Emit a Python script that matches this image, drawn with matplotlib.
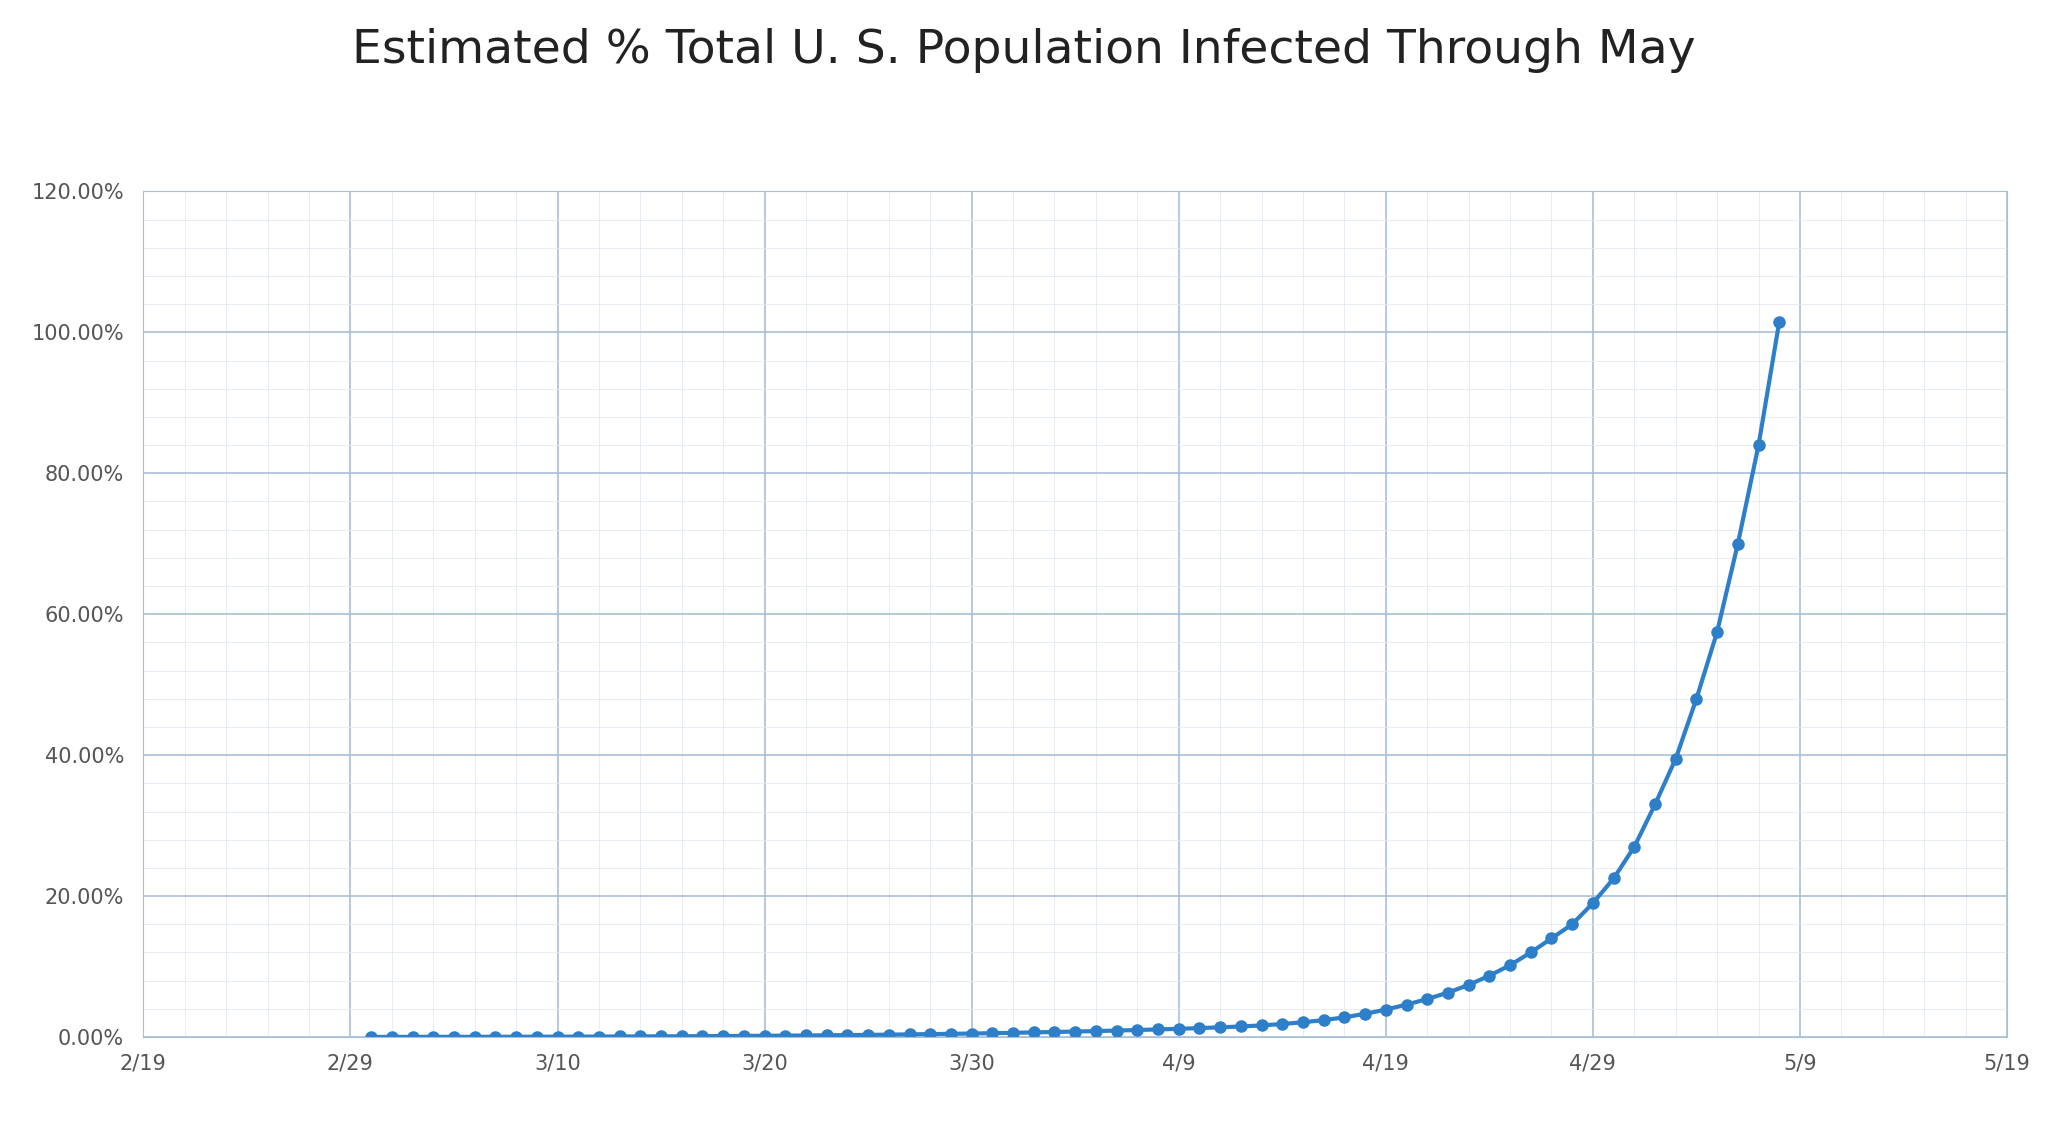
import pandas as pd
import matplotlib.pyplot as plt
import matplotlib.dates as mdates
from matplotlib.ticker import FuncFormatter

dates = pd.date_range("2020-03-01", "2020-05-08", freq="D")
# estimated % of population infected
values = [0.01, 0.02, 0.02, 0.03, 0.03, 0.03, 0.04, 0.04, 0.05, 0.05, 0.06,
          0.07, 0.08, 0.09, 0.10, 0.11, 0.13, 0.14, 0.16, 0.18, 0.20,
          0.22, 0.25, 0.28, 0.31, 0.34, 0.38, 0.42, 0.46, 0.50, 0.55,
          0.60, 0.66, 0.72, 0.78, 0.85, 0.92, 1.00, 1.08, 1.17, 1.27,
          1.38, 1.50, 1.65, 1.85, 2.1, 2.4, 2.8, 3.3, 3.9, 4.6,
          5.4, 6.3, 7.4, 8.7, 10.2, 12.0, 14.0, 16.0, 19.0, 22.5,
          27.0, 33.0, 39.5, 48.0, 57.5, 70.0, 84.0, 101.5]

fig, ax = plt.subplots(figsize=(20.48, 11.26), dpi=100)
fig.subplots_adjust(left=0.07, right=0.98, top=0.83, bottom=0.079)
ax.plot(dates, values, color="#2e7fc9", lw=3, marker="o", ms=8)
ax.set_xlim(pd.Timestamp("2020-02-19"), pd.Timestamp("2020-05-19"))
ax.set_ylim(0, 120)
ax.set_yticks(range(0, 121, 20))
ax.yaxis.set_major_formatter(FuncFormatter(lambda v, p: f"{v:.2f}%"))
ticks = pd.date_range("2020-02-19", "2020-05-19", freq="10D")
ax.set_xticks(ticks)
ax.set_xticklabels([f"{d.month}/{d.day}" for d in ticks])
ax.xaxis.set_minor_locator(mdates.DayLocator(interval=2))
ax.yaxis.set_minor_locator(plt.MultipleLocator(4))
ax.grid(True, which="major", color="#a9bfd6", lw=1.2)
ax.grid(True, which="minor", color="#e3eaf1", lw=0.6)
ax.tick_params(which="both", length=0, labelsize=15, colors="#555555")
ax.tick_params(axis="x", pad=12)
ax.tick_params(axis="y", pad=14)
for s in ax.spines.values():
    s.set_color("#a9bfd6")
fig.suptitle("Estimated % Total U. S. Population Infected Through May",
             fontsize=34, y=0.975, color="#222222")
fig.savefig("out.png")
